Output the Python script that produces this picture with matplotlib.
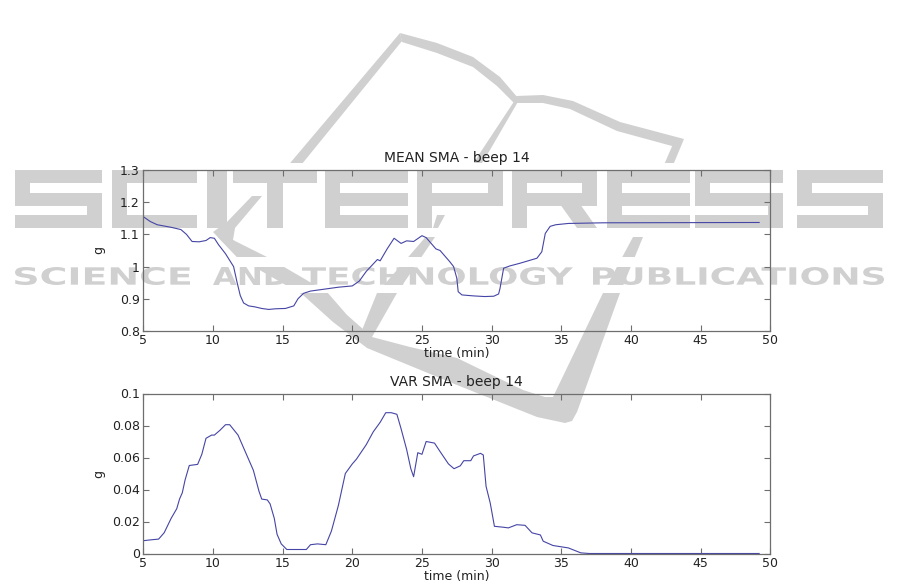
import matplotlib
matplotlib.use("Agg")
from matplotlib import pyplot as plt
from matplotlib.patches import PathPatch, Polygon, Rectangle
from matplotlib.textpath import TextPath
from matplotlib.font_manager import FontProperties
from matplotlib.transforms import Affine2D

mean_t = [5, 5.5, 6, 7, 7.7, 8.1, 8.5, 9, 9.5, 9.8, 10.1, 10.4, 10.9, 11.48, 11.72, 11.96, 12.2, 12.56, 13,
          13.5, 14, 14.5, 15.2, 15.8, 16.1, 16.5, 17, 18, 19, 20, 20.5, 21, 21.8, 22, 22.5, 23, 23.5,
          23.9, 24.4, 25, 25.3, 26, 26.3, 27, 27.27, 27.5, 27.6, 27.87, 28.7, 29.5, 30.15, 30.5, 30.6,
          30.86, 31.3, 32, 33.25, 33.6, 33.85, 34.2, 34.6, 35.5, 38, 49.2]
mean_g = [1.155, 1.14, 1.13, 1.122, 1.115, 1.10, 1.078, 1.077, 1.081, 1.09, 1.088, 1.068, 1.04, 1.0,
          0.953, 0.91, 0.887, 0.878, 0.875, 0.87, 0.867, 0.869, 0.87, 0.878, 0.90, 0.917, 0.924, 0.93,
          0.936, 0.94, 0.955, 0.985, 1.022, 1.018, 1.055, 1.088, 1.072, 1.08, 1.078, 1.096, 1.09, 1.055,
          1.05, 1.015, 1.0, 0.964, 0.922, 0.912, 0.909, 0.907, 0.908, 0.915, 0.932, 0.995, 1.002, 1.01,
          1.026, 1.046, 1.103, 1.125, 1.13, 1.134, 1.136, 1.137]

var_t = [5, 5.5, 6.1, 6.5, 7, 7.4, 7.6, 7.8, 8, 8.3, 8.9, 9.2, 9.5, 9.9, 10.1, 10.5, 10.9, 11.2, 11.8,
         12.2, 12.6, 12.9, 13.3, 13.5, 13.9, 14.1, 14.4, 14.6, 14.9, 15.3, 16.7, 17, 17.5, 18.1, 18.5,
         19, 19.5, 20, 20.3, 21, 21.5, 22, 22.4, 22.8, 23.2, 23.5, 23.9, 24.2, 24.4, 24.7, 25, 25.3,
         25.9, 26.3, 26.9, 27.3, 27.75, 28, 28.5, 28.7, 29.2, 29.4, 29.6, 29.9, 30.2, 30.86, 31.2, 31.8,
         32.4, 32.9, 33.5, 33.7, 34.4, 35.5, 36.4, 37, 49.2]
var_g = [.008, .0085, .009, .013, .022, .028, .034, .038, .046, .055, .0557, .062, .072, .074, .074,
         .077, .0805, .0805, .074, .066, .058, .052, .039, .034, .0335, .031, .022, .012, .006, .0025,
         .0025, .0055, .006, .0055, .014, .03, .050, .056, .059, .068, .076, .082, .088, .088, .087,
         .078, .065, .053, .048, .063, .062, .070, .069, .0637, .056, .053, .0548, .058, .058, .061,
         .0626, .0616, .042, .0315, .017, .0164, .016, .018, .0176, .0129, .0116, .0077, .005, .0035,
         .0004, 0, 0]

time_ticks = [5, 10, 15, 20, 25, 30, 35, 40, 45, 50]
mean_ticks = [0.8, 0.9, 1, 1.1, 1.2, 1.3]
mean_labels = ["0.8", "0.9", "1", "1.1", "1.2", "1.3"]
var_ticks = [0, 0.02, 0.04, 0.06, 0.08, 0.1]
var_labels = ["0", "0.02", "0.04", "0.06", "0.08", "0.1"]

W, H = 901, 584
LINE = "#4545a5"
AXIS = "#6e6e6e"
MARK = "#d0d0d0"
INK = "#222222"

# watermark geometry, in image pixels
LEFT_STROKE = [(400, 33), (280, 175), (293, 175), (402, 41)]
TOP_LEFT = [(400, 33), (437, 43), (473, 57), (500, 77), (518, 98), (514, 103), (497, 86), (473, 67),
            (437, 53), (402, 42)]
TOP_RIGHT = [(516, 96), (543, 95), (573, 101), (620, 122), (684, 139), (672, 146), (617, 131),
             (570, 109), (543, 103), (516, 103)]
SPINE = [(515, 100), (480, 153), (436, 225), (377, 293), (358, 340), (372, 337), (397, 293), (450, 215),
         (490, 150), (519, 100)]
BAND = [(213, 232), (233, 240), (267, 257), (327, 292), (347, 315), (372, 337), (410, 347), (457, 358),
        (523, 390), (545, 397), (553, 397), (603, 293), (633, 237), (673, 144), (684, 139), (643, 237),
        (620, 293), (577, 412), (572, 421), (565, 423), (537, 417), (457, 385), (367, 348), (333, 322),
        (303, 295), (237, 257)]
K_SHAPE = [(262, 196), (235, 228), (233, 240), (255, 257), (237, 257), (213, 232), (227, 222), (252, 196)]
WEDGE = [(437, 215), (445, 215), (438, 228), (433, 228)]
GAPS = [(163, 237), (257, 267), (285, 293)]
WORD_BOXES = [("SCIENCE", 15, 190), ("AND", 213, 287), ("TECHNOLOGY", 302, 573), ("PUBLICATIONS", 593, 884)]
LETTER_BOXES = [("S", 15, 102), ("C", 112, 197), ("I", 207, 227), ("T", 233, 317), ("E", 325, 408),
                ("P", 417, 503), ("R", 512, 597), ("E", 607, 690), ("S", 695, 783), ("S", 797, 883)]

plt.rcParams['font.family'] = ['DejaVu Sans']


def fitted_text(ax, text, x0, x1, y0, y1):
    # stretch a text outline into a pixel box
    path = TextPath((0, 0), text, size=10, prop=FontProperties(family="DejaVu Sans", weight="bold"))
    box = path.get_extents()
    tr = (Affine2D().translate(-box.x0, -box.y0)
          .scale((x1 - x0) / box.width, -(y1 - y0) / box.height)
          .translate(x0, y1))
    ax.add_patch(PathPatch(tr.transform_path(path), fc=MARK, ec="none"))


def block_letter(ax, ch, x0, x1, y0=170, y1=228, bar=13, stem=15):
    # the big wordmark letters are plain bars
    mid0 = 192.5
    top = (x0, y0, x1, y0 + bar)
    middle = (x0, mid0, x1, mid0 + bar)
    bottom = (x0, y1 - bar, x1, y1)
    left = (x0, y0, x0 + stem, y1)
    right_up = (x1 - stem, y0, x1, mid0 + bar)
    parts = {
        "S": [top, middle, bottom, (x0, y0, x0 + stem, mid0 + bar), (x1 - stem, mid0, x1, y1)],
        "C": [top, bottom, left],
        "I": [(x0, y0, x1, y1)],
        "T": [top, ((x0 + x1) / 2 - 8, y0, (x0 + x1) / 2 + 8, y1)],
        "E": [top, middle, bottom, left],
        "P": [top, middle, left, right_up],
        "R": [top, middle, left, right_up],
    }[ch]
    for a, b, c, d in parts:
        ax.add_patch(Rectangle((a, b), c - a, d - b, fc=MARK, ec="none"))
    if ch == "R":
        ax.add_patch(Polygon([(x1 - 36, mid0 + bar), (x1 - 16, mid0 + bar), (x1, y1), (x1 - 20, y1)], fc=MARK, ec="none"))


def watermark(fig):
    ax = fig.add_axes([0, 0, 1, 1], zorder=0)
    ax.set_xlim(0, W)
    ax.set_ylim(H, 0)
    ax.axis("off")
    for shape in (LEFT_STROKE, TOP_LEFT, TOP_RIGHT, SPINE, BAND):
        ax.add_patch(Polygon(shape, fc=MARK, ec="none"))
    # the book is cut away around the lettering
    for y0, y1 in GAPS:
        ax.add_patch(Rectangle((0, y0), W, y1 - y0, fc="white", ec="none"))
    ax.add_patch(Polygon(K_SHAPE, fc=MARK, ec="none"))
    ax.add_patch(Polygon(WEDGE, fc=MARK, ec="none"))
    for ch, x0, x1 in LETTER_BOXES:
        block_letter(ax, ch, x0, x1)
    for word, x0, x1 in WORD_BOXES:
        fitted_text(ax, word, x0, x1, 267, 285)


def panel(fig, top, bottom, t, g, title, yticks, ylabels, ylim):
    left, right = 143.3, 770.3
    ax = fig.add_axes([left / W, 1 - bottom / H, (right - left) / W, (bottom - top) / H], zorder=1)
    ax.patch.set_alpha(0)
    ax.plot(t, g, color=LINE, lw=0.8)
    ax.set_xlim(5, 50)
    ax.set_ylim(*ylim)
    ax.set_xticks(time_ticks)
    ax.set_yticks(yticks)
    ax.set_yticklabels(ylabels)
    ax.tick_params(direction="in", top=True, right=True, length=4.5, width=0.8, color=AXIS,
                   labelsize=9, pad=2.5, labelcolor=INK)
    for s in ax.spines.values():
        s.set_color(AXIS)
        s.set_linewidth(0.9)
    ax.set_title(title, fontsize=10, pad=5.5, color=INK)
    ax.set_xlabel("time (min)", fontsize=9, labelpad=0, color=INK)
    ax.set_ylabel("g", fontsize=9, color=INK)
    ax.yaxis.set_label_coords(-0.06, 0.5)
    return ax


fig = plt.figure(figsize=(W / 100, H / 100), dpi=100, facecolor="white")
watermark(fig)
panel(fig, 170, 331, mean_t, mean_g, "MEAN SMA - beep 14", mean_ticks, mean_labels, (0.8, 1.3))
panel(fig, 393.5, 553.5, var_t, var_g, "VAR SMA - beep 14", var_ticks, var_labels, (0, 0.1))
fig.savefig("out.png", dpi=100)
